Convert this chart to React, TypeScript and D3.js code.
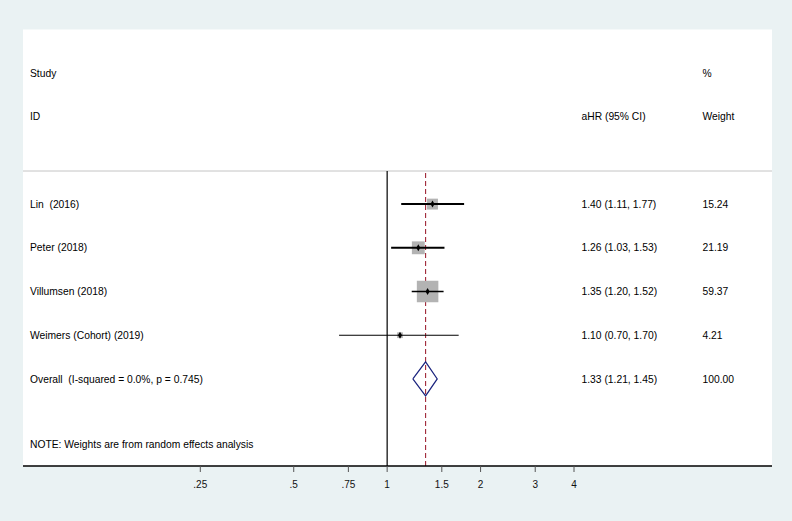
import { useEffect, useRef } from "react";
import * as d3 from "d3";

const studies = ["Lin  (2016)", "Peter (2018)", "Villumsen (2018)", "Weimers (Cohort) (2019)"];
const hr = [1.4, 1.26, 1.35, 1.1];
const lower = [1.11, 1.03, 1.2, 0.7];
const upper = [1.77, 1.53, 1.52, 1.7];
const weights = [15.24, 21.19, 59.37, 4.21];
const ciText = ["1.40 (1.11, 1.77)", "1.26 (1.03, 1.53)", "1.35 (1.20, 1.52)", "1.10 (0.70, 1.70)"];
const weightText = ["15.24", "21.19", "59.37", "4.21"];

const overallLabel = "Overall  (I-squared = 0.0%, p = 0.745)";
const overallEstimate = [1.33, 1.21, 1.45];
const overallText = ["1.33 (1.21, 1.45)", "100.00"];
const noteText = "NOTE: Weights are from random effects analysis";

const tickValues = [0.25, 0.5, 0.75, 1, 1.5, 2, 3, 4];
const tickLabels = [".25", ".5", ".75", "1", "1.5", "2", "3", "4"];

const FONT = "'Liberation Sans', Arial, sans-serif";

export default function App() {
  const ref = useRef(null);

  useEffect(() => {
    const width = 792;
    const height = 521;
    const svg = d3.select(ref.current);
    svg.selectAll("*").remove();

    const plotLeft = 23;
    const plotRight = 772;
    const plotTop = 29.5;
    const axisY = 466;
    const headerLineY = 171;

    const x = d3.scaleLog().domain([0.25, 4]).range([200.3, 574]);
    const row = d3.scaleLinear().domain([0, 1]).range([73, 116.7]);
    const side = d3.scaleSqrt().domain([0, d3.max(weights) || 1]).range([0, 21.5]);

    const colLabel = 30;
    const colCI = 581.5;
    const colWeight = 702.5;

    svg.append("rect").attr("width", width).attr("height", height).attr("fill", "#eaf2f3");
    svg
      .append("rect")
      .attr("x", plotLeft)
      .attr("y", plotTop)
      .attr("width", plotRight - plotLeft)
      .attr("height", axisY - plotTop)
      .attr("fill", "#ffffff");

    const text = (tx, ty, s, anchor = "start") =>
      svg
        .append("text")
        .attr("x", tx)
        .attr("y", ty)
        .attr("dy", "0.35em")
        .attr("text-anchor", anchor)
        .attr("font-family", FONT)
        .attr("font-size", 10.3)
        .attr("fill", "#000")
        .style("white-space", "pre")
        .text(s);

    // headers
    text(colLabel, row(0), "Study");
    text(colLabel, row(1), "ID");
    text(colCI, row(1), "aHR (95% CI)");
    text(colWeight, row(0), "%");
    text(colWeight, row(1), "Weight");

    svg
      .append("line")
      .attr("x1", plotLeft)
      .attr("x2", plotRight)
      .attr("y1", headerLineY)
      .attr("y2", headerLineY)
      .attr("stroke", "#c4c4c4")
      .attr("stroke-width", 1);

    // null line
    svg
      .append("line")
      .attr("x1", x(1))
      .attr("x2", x(1))
      .attr("y1", headerLineY)
      .attr("y2", axisY)
      .attr("stroke", "#000")
      .attr("stroke-width", 1.2);

    // overall dashed line
    svg
      .append("line")
      .attr("x1", x(overallEstimate[0]))
      .attr("x2", x(overallEstimate[0]))
      .attr("y1", headerLineY + 2)
      .attr("y2", axisY)
      .attr("stroke", "#a02838")
      .attr("stroke-width", 1.1)
      .attr("stroke-dasharray", "5,3");

    const ciWidths = [2, 2, 1.5, 1.1];
    studies.forEach((name, i) => {
      const cy = row(i + 3);
      const s = side(weights[i]);
      svg
        .append("rect")
        .attr("x", x(hr[i]) - s / 2)
        .attr("y", cy - s / 2)
        .attr("width", s)
        .attr("height", s)
        .attr("fill", "#b3b3b3");
      svg
        .append("line")
        .attr("x1", x(lower[i]))
        .attr("x2", x(upper[i]))
        .attr("y1", cy)
        .attr("y2", cy)
        .attr("stroke", "#000")
        .attr("stroke-width", ciWidths[i]);
      svg
        .append("path")
        .attr("d", d3.symbol(d3.symbolDiamond, 14)())
        .attr("transform", `translate(${x(hr[i])},${cy})`)
        .attr("fill", "#000");
      text(colLabel, cy, name);
      text(colCI, cy, ciText[i]);
      text(colWeight, cy, weightText[i]);
    });

    // overall diamond
    const oy = row(7);
    const half = 17;
    const [est, lo, hi] = overallEstimate;
    svg
      .append("path")
      .attr(
        "d",
        d3.line()([
          [x(lo), oy],
          [x(est), oy - half],
          [x(hi), oy],
          [x(est), oy + half],
          [x(lo), oy],
        ])
      )
      .attr("fill", "none")
      .attr("stroke", "#1a237e")
      .attr("stroke-width", 1.2);
    text(colLabel, oy, overallLabel);
    text(colCI, oy, overallText[0]);
    text(colWeight, oy, overallText[1]);

    text(colLabel, row(8.5), noteText);

    // axis
    svg
      .append("line")
      .attr("x1", plotLeft)
      .attr("x2", plotRight)
      .attr("y1", axisY)
      .attr("y2", axisY)
      .attr("stroke", "#000")
      .attr("stroke-width", 1.5);

    const tickG = svg.append("g");
    tickG
      .selectAll("line")
      .data(tickValues)
      .join("line")
      .attr("x1", (d) => x(d))
      .attr("x2", (d) => x(d))
      .attr("y1", axisY)
      .attr("y2", axisY + 6)
      .attr("stroke", "#555")
      .attr("stroke-width", 1);
    tickG
      .selectAll("text")
      .data(tickValues)
      .join("text")
      .attr("x", (d) => x(d))
      .attr("y", 484)
      .attr("dy", "0.35em")
      .attr("text-anchor", "middle")
      .attr("font-family", FONT)
      .attr("font-size", 10)
      .attr("fill", "#111")
      .text((_, i) => tickLabels[i]);
  }, []);

  return (
    <svg
      ref={ref}
      width={792}
      height={521}
      style={{ position: "absolute", left: 0, top: 0, display: "block" }}
    />
  );
}
